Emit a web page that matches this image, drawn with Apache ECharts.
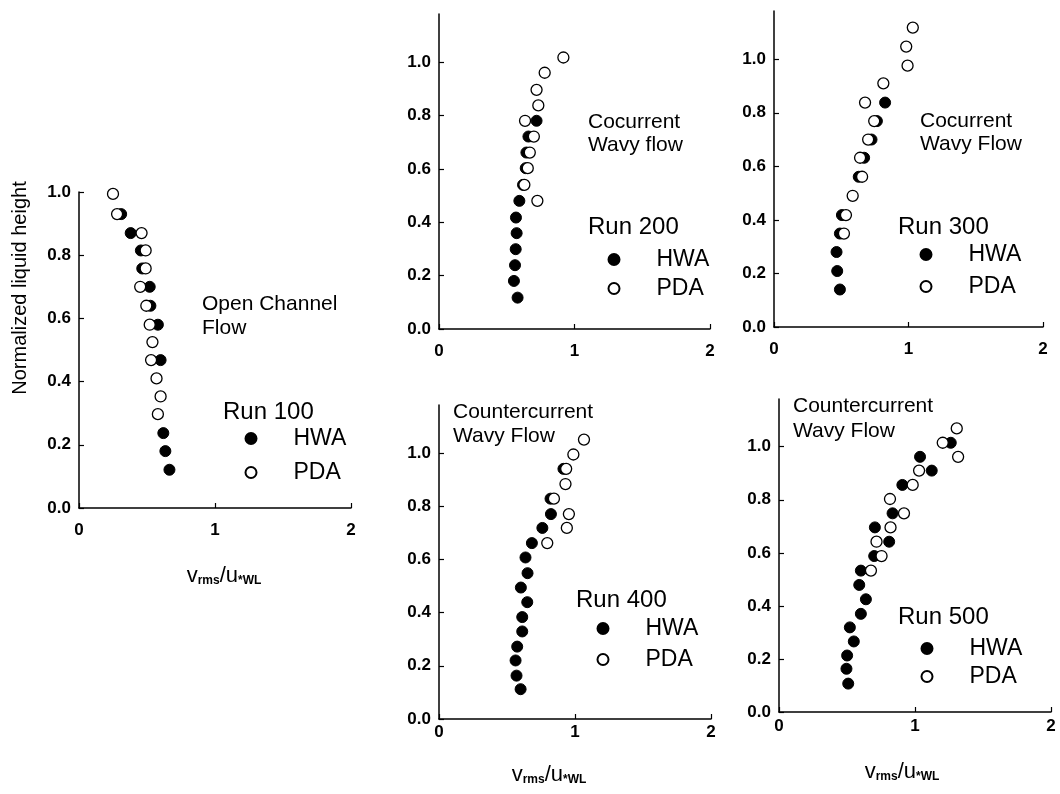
<!DOCTYPE html>
<html>
<head>
<meta charset="utf-8">
<script src="https://cdn.jsdelivr.net/npm/echarts@6/dist/echarts.min.js"></script>
<style>
	html, body {margin: 0; padding: 0; background: #fff;}
	#main {width: 1060px; height: 794px;}
</style>
</head>
<body>
<div id="main"></div>
<script>
// [v_rms/u*WL, normalized liquid height]
const run100Hwa = [[0.31,0.93],[0.38,0.87],[0.455,0.815],[0.465,0.758],[0.52,0.70],[0.525,0.64],[0.58,0.58],[0.60,0.468],[0.62,0.237],[0.635,0.18],[0.665,0.121]];
const run100Pda = [[0.25,0.994],[0.28,0.93],[0.46,0.87],[0.49,0.815],[0.49,0.758],[0.45,0.70],[0.495,0.64],[0.52,0.58],[0.54,0.525],[0.53,0.468],[0.57,0.41],[0.60,0.353],[0.58,0.297]];

const run200Hwa = [[0.72,0.78],[0.66,0.721],[0.645,0.661],[0.64,0.6025],[0.62,0.54],[0.593,0.48],[0.568,0.4175],[0.573,0.359],[0.566,0.299],[0.561,0.239],[0.553,0.18],[0.58,0.1175]];
const run200Pda = [[0.918,1.017],[0.78,0.96],[0.72,0.896],[0.733,0.8375],[0.635,0.78],[0.70,0.721],[0.67,0.661],[0.655,0.6025],[0.63,0.54],[0.726,0.48]];

const run300Hwa = [[0.826,0.838],[0.765,0.769],[0.725,0.70],[0.67,0.632],[0.63,0.561],[0.505,0.418],[0.49,0.349],[0.465,0.28],[0.47,0.209],[0.49,0.14]];
const run300Pda = [[1.032,1.118],[0.983,1.047],[0.993,0.976],[0.813,0.91],[0.677,0.838],[0.745,0.769],[0.70,0.70],[0.64,0.632],[0.655,0.561],[0.585,0.49],[0.535,0.418],[0.52,0.349]];

const run400Hwa = [[0.915,0.94],[0.82,0.828],[0.823,0.77],[0.76,0.718],[0.683,0.661],[0.636,0.607],[0.651,0.548],[0.602,0.494],[0.649,0.439],[0.612,0.383],[0.612,0.329],[0.575,0.272],[0.563,0.22],[0.57,0.163],[0.60,0.112]];
const run400Pda = [[1.066,1.05],[0.988,0.994],[0.935,0.94],[0.93,0.883],[0.845,0.828],[0.955,0.77],[0.94,0.718],[0.796,0.661]];

const run500Hwa = [[1.263,1.015],[1.037,0.962],[1.123,0.91],[0.907,0.856],[0.835,0.749],[0.705,0.696],[0.81,0.642],[0.70,0.588],[0.602,0.533],[0.59,0.479],[0.639,0.425],[0.602,0.37],[0.521,0.319],[0.55,0.266],[0.501,0.213],[0.496,0.163],[0.509,0.107]];
const run500Pda = [[1.307,1.069],[1.204,1.015],[1.317,0.962],[1.03,0.91],[0.983,0.856],[0.816,0.803],[0.919,0.749],[0.82,0.696],[0.717,0.642],[0.754,0.588],[0.676,0.533]];

const yTicks = [0, 0.2, 0.4, 0.6, 0.8, 1.0];
const runNames = ['Run 100', 'Run 200', 'Run 300', 'Run 400', 'Run 500'];
const flowNames = ['Open Channel\nFlow', 'Cocurrent\nWavy flow', 'Cocurrent\nWavy Flow', 'Countercurrent\nWavy Flow', 'Countercurrent\nWavy Flow'];

const font = 'Liberation Sans, Arial, sans-serif';
const ink = '#000';

const chart = echarts.init(document.getElementById('main'));

// panel boxes, pixels
const grids = [
	{left: 79, top: 192, width: 272, height: 316},
	{left: 439, top: 14, width: 271, height: 315},
	{left: 774, top: 11, width: 269, height: 316},
	{left: 439, top: 405, width: 272, height: 314},
	{left: 779, top: 399, width: 272, height: 313}
];
const yMax = [1.0, 1.18, 1.18, 1.18, 1.18];
const xLabelMargin = [14, 14, 14, 5, 6];
// x axis title: [show, gap, padding]
const xName = [
	[true, 56, [0, 0, 0, 18]],
	[false, 0, 0],
	[false, 0, 0],
	[true, 44, [0, 52, 0, 0]],
	[true, 48, [0, 26, 0, 0]]
];

const xAxisName = '{a|v}{b|rms}{a|/u}{b|*WL}';

const xAxes = grids.map((g, i) => ({
	gridIndex: i,
	type: 'value',
	min: 0, max: 2, interval: 1,
	name: xName[i][0] ? xAxisName : '',
	nameLocation: 'middle',
	nameGap: xName[i][1],
	nameTextStyle: {
		padding: xName[i][2],
		rich: {
			a: {fontSize: 22, fontFamily: font, color: ink},
			b: {fontSize: 12, fontFamily: font, color: ink, fontWeight: 'bold', padding: [11, 0, 0, 0]}
		}
	},
	axisLine: {show: true, onZero: false, lineStyle: {color: ink, width: 1.5}},
	axisTick: {show: true, inside: true, length: 5, lineStyle: {color: ink, width: 1.2}},
	axisLabel: {margin: xLabelMargin[i], fontSize: 17, fontWeight: 'bold', fontFamily: font, color: ink},
	splitLine: {show: false}
}));

const yAxes = grids.map((g, i) => ({
	gridIndex: i,
	type: 'value',
	min: 0, max: yMax[i], interval: 0.2,
	axisLine: {show: true, onZero: false, lineStyle: {color: ink, width: 1.5}},
	axisTick: {show: true, inside: true, length: 5, customValues: yTicks, lineStyle: {color: ink, width: 1.2}},
	axisLabel: {
		margin: 8, fontSize: 17, fontWeight: 'bold', fontFamily: font, color: ink,
		customValues: yTicks,
		formatter: v => v.toFixed(1)
	},
	splitLine: {show: false}
}));

const hwaStyle = {color: '#000', borderColor: '#000', borderWidth: 1, opacity: 1};
const pdaStyle = {color: '#fff', borderColor: '#000', borderWidth: 1.3, opacity: 1};

const hwaSets = [run100Hwa, run200Hwa, run300Hwa, run400Hwa, run500Hwa];
const pdaSets = [run100Pda, run200Pda, run300Pda, run400Pda, run500Pda];

let series = [];
hwaSets.forEach((d, i) => {
	series.push({
		name: 'HWA', type: 'scatter', xAxisIndex: i, yAxisIndex: i,
		data: d, symbol: 'circle', symbolSize: 11, itemStyle: hwaStyle, z: 2, silent: true
	});
});
pdaSets.forEach((d, i) => {
	series.push({
		name: 'PDA', type: 'scatter', xAxisIndex: i, yAxisIndex: i,
		data: d, symbol: 'circle', symbolSize: 11, itemStyle: pdaStyle, z: 3, silent: true
	});
});

// legend rows: marker centre x, first row y, row spacing
const legendPos = [[250, 437, 31], [613, 258, 26], [925, 253, 29], [602, 627, 28], [926, 647, 25]];
const legends = legendPos.map(p => ({
	orient: 'vertical',
	left: p[0] - 5.5,
	top: p[1] - 10,
	padding: 0,
	itemGap: p[2] - 20,
	itemWidth: 11,
	itemHeight: 11,
	icon: 'circle',
	selectedMode: false,
	data: ['HWA', 'PDA'],
	textStyle: {fontSize: 23, lineHeight: 20, fontFamily: font, color: ink, padding: [0, 0, 0, 32]}
}));

// annotation positions
const flowPos = [[202, 292, 24], [588, 111, 23], [920, 110, 23], [453, 400, 24], [793, 394, 25]];
const runPos = [[223, 412], [588, 227], [898, 227], [576, 600], [898, 617]];

let graphics = [{
	type: 'text', x: 20, y: 288, rotation: Math.PI / 2,
	style: {text: 'Normalized liquid height', fontSize: 20, fontFamily: font, fill: ink, align: 'center', verticalAlign: 'middle'}
}];
flowNames.forEach((t, i) => {
	graphics.push({
		type: 'text', x: flowPos[i][0], y: flowPos[i][1],
		style: {text: t, fontSize: 21, lineHeight: flowPos[i][2], fontFamily: font, fill: ink, verticalAlign: 'top'}
	});
	graphics.push({
		type: 'text', x: runPos[i][0], y: runPos[i][1],
		style: {text: runNames[i], fontSize: 24, fontFamily: font, fill: ink, verticalAlign: 'middle'}
	});
});

let option = {
	backgroundColor: '#fff',
	animation: false,
	grid: grids,
	xAxis: xAxes,
	yAxis: yAxes,
	legend: legends,
	graphic: graphics,
	series: series
};
chart.setOption(option);
</script>
</body>
</html>
